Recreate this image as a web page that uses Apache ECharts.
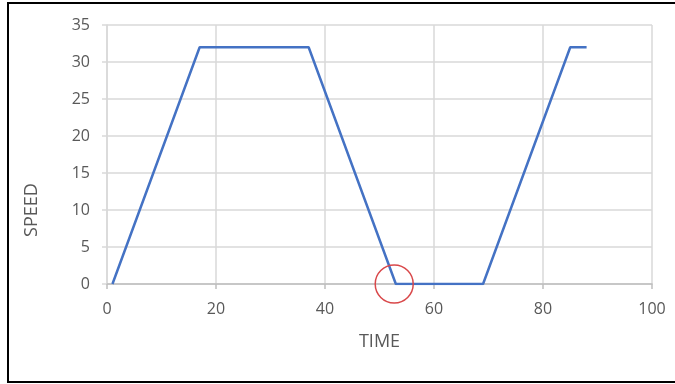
<!DOCTYPE html>
<html>
<head>
<meta charset="utf-8">
<script src="https://cdn.jsdelivr.net/npm/echarts@6/dist/echarts.min.js"></script>
<style>
html,body{margin:0;padding:0;background:#fff;}
#chart{width:675px;height:384px;}
</style>
</head>
<body>
<div id="chart"></div>
<script>
var timeValues = [1, 17, 37, 53, 69, 85, 88];
var speedValues = [0, 32, 32, 0, 0, 32, 32];
var xTitle = 'TIME';
var yTitle = 'SPEED';
var highlightPoint = [52.7, 0];

var seriesData = timeValues.map(function (t, i) { return [t, speedValues[i]]; });
var font = '"Open Sans", "Liberation Sans", sans-serif';
var chart = echarts.init(document.getElementById('chart'), null, {renderer: 'canvas'});
chart.setOption({
  animation: false,
  backgroundColor: '#ffffff',
  grid: {left: 107, right: 23, top: 25, bottom: 100, containLabel: false},
  xAxis: {
    type: 'value', min: 0, max: 100, interval: 20,
    name: xTitle, nameLocation: 'middle', nameGap: 49,
    nameTextStyle: {color: '#595959', fontSize: 18, fontFamily: font},
    axisLine: {show: true, lineStyle: {color: '#bfbfbf', width: 1.5}},
    axisTick: {show: true, length: 5, lineStyle: {color: '#bfbfbf', width: 1.5}},
    axisLabel: {color: '#595959', fontSize: 16, fontFamily: font, margin: 17},
    splitLine: {show: true, lineStyle: {color: '#d9d9d9', width: 1.5}}
  },
  yAxis: {
    type: 'value', min: 0, max: 35, interval: 5,
    axisLine: {show: true, lineStyle: {color: '#d9d9d9', width: 1.5}},
    axisTick: {show: true, length: 5, lineStyle: {color: '#d9d9d9', width: 1.5}},
    axisLabel: {color: '#595959', fontSize: 16, fontFamily: font, margin: 17},
    splitLine: {show: true, lineStyle: {color: '#d9d9d9', width: 1.5}}
  },
  series: [{
    type: 'line',
    data: seriesData,
    showSymbol: false,
    symbol: 'none',
    lineStyle: {color: '#4472C4', width: 2.5},
    markPoint: {
      symbol: 'circle',
      symbolSize: 38,
      label: {show: false},
      itemStyle: {color: 'rgba(0,0,0,0)', borderColor: '#D9484A', borderWidth: 1.5},
      data: [{coord: highlightPoint}]
    }
  }],
  graphic: [
    {type: 'text', x: 32, y: 210, rotation: Math.PI / 2,
     style: {text: yTitle, fill: '#595959', font: '18px ' + font, align: 'center', verticalAlign: 'middle'}},
    {type: 'line', shape: {x1: 8, y1: 2, x2: 8, y2: 383}, style: {stroke: '#000', lineWidth: 2}},
    {type: 'line', shape: {x1: 7, y1: 3, x2: 675, y2: 3}, style: {stroke: '#000', lineWidth: 2}},
    {type: 'line', shape: {x1: 7, y1: 382, x2: 675, y2: 382}, style: {stroke: '#000', lineWidth: 2}}
  ]
});
</script>
</body>
</html>
